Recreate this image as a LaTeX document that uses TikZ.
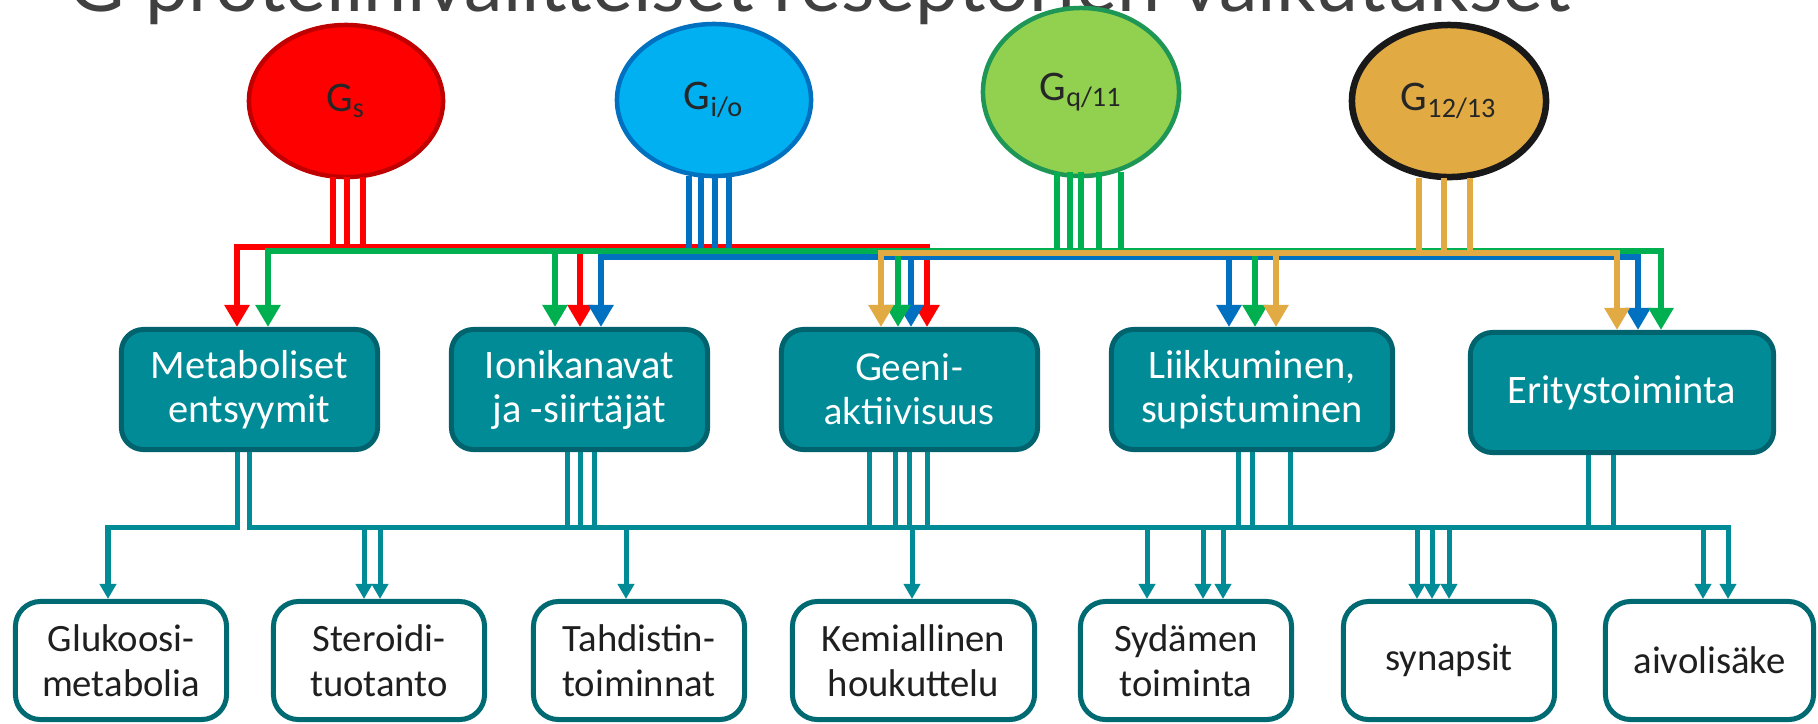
\documentclass[tikz,border=0pt]{standalone}
\usepackage{fontspec}
\setmainfont{Carlito}
\newfontfamily\latofont{Lato}
\usetikzlibrary{shapes.geometric,arrows.meta,calc}

\definecolor{gsfill}{RGB}{255,0,0}
\definecolor{gsedge}{RGB}{192,0,0}
\definecolor{giofill}{RGB}{0,176,240}
\definecolor{gioedge}{RGB}{0,112,192}
\definecolor{gqfill}{RGB}{146,208,80}
\definecolor{gqedge}{RGB}{30,150,85}
\definecolor{gfill}{RGB}{225,170,66}
\definecolor{linered}{RGB}{255,0,0}
\definecolor{lineblue}{RGB}{0,112,192}
\definecolor{linegreen}{RGB}{0,176,80}
\definecolor{lineyellow}{RGB}{225,170,66}
\definecolor{tealfill}{RGB}{0,139,150}
\definecolor{tealedge}{RGB}{0,99,110}
\definecolor{tealbox}{RGB}{0,106,114}
\definecolor{labeltext}{RGB}{38,38,38}
\definecolor{titlegray}{RGB}{64,64,64}

\begin{document}
\begin{tikzpicture}[x=0.01cm,y=-0.01cm,
		gprot/.style={ellipse, line width=0.045cm, minimum width=1.94cm, minimum height=1.52cm,
			inner sep=0pt, text=labeltext, font=\fontsize{12}{14}\selectfont},
		effbox/.style={rectangle, rounded corners=0.22cm, draw=tealedge, fill=tealfill, line width=0.05cm,
			minimum height=1.2cm, inner sep=0pt, align=center, text=white, font=\fontsize{11.5}{12.5}\selectfont},
		target/.style={rectangle, rounded corners=0.25cm, draw=tealbox, fill=white, line width=0.05cm,
			minimum width=2.11cm, minimum height=1.18cm, inner sep=0pt, align=center, text=black!88,
			font=\fontsize{11}{12.8}\selectfont},
		cline/.style={line width=0.065cm},
		tline/.style={line width=0.05cm, draw=tealfill},
		uptip/.style={-{Triangle[width=0.24cm,length=0.22cm]}},
		downtip/.style={-{Triangle[width=0.16cm,length=0.15cm]}}]
		\useasboundingbox (0,0) rectangle (1818,723);

		% Otsikko
		\node[anchor=base west, inner sep=0pt, text=titlegray, font=\latofont\fontsize{22}{26}\selectfont]
			(title) at (68,11) {G proteiinivälitteiset reseptorien vaikutukset};

		% G-proteiinit
		\node[gprot, fill=gsfill, draw=gsedge] (gs) at (346,101) {G\textsubscript{s}};
		\node[gprot, fill=giofill, draw=gioedge] (gio) at (714,100) {G\textsubscript{i/o}};
		\node[gprot, fill=gqfill, draw=gqedge, minimum width=1.96cm, minimum height=1.68cm] (gq) at (1081,92) {G\textsubscript{q/11}};
		\node[gprot, fill=gfill, draw=black!90, line width=0.065cm] (g12) at (1449,101) {G\textsubscript{12/13}};

		% Vaikutuskohteet
		\node[effbox, minimum width=2.56cm] (met) at (249.5,389.5) {Metaboliset\\entsyymit};
		\node[effbox, minimum width=2.56cm] (ion) at (579.5,389.5) {Ionikanavat\\ja -siirtäjät};
		\node[effbox, minimum width=2.56cm, font=\latofont\fontsize{10.5}{12.5}\selectfont] (gen) at (909.5,389.5) {Geeni-\\aktiivisuus};
		\node[effbox, minimum width=2.81cm] (lii) at (1252,389.5) {Liikkuminen,\\supistuminen};
		\node[effbox, minimum width=3.03cm] (eri) at (1622,392.5) {Eritystoiminta};

		% Toiminnot
		\node[target] (glu) at (121,660.5) {Glukoosi-\\metabolia};
		\node[target] (ste) at (379,660.5) {Steroidi-\\tuotanto};
		\node[target] (tah) at (639,660.5) {Tahdistin-\\toiminnat};
		\node[target, minimum width=2.42cm] (kem) at (913.5,660.5) {Kemiallinen\\houkuttelu};
		\node[target] (syd) at (1186,660.5) {Sydämen\\toiminta};
		\node[target] (syn) at (1449,660.5) {synapsit};
		\node[target, minimum width=2.08cm] (aiv) at (1709.5,660.5) {aivolisäke};

		% Kiskot
		\coordinate (rbus) at (346,247);
		\coordinate (bbus) at (714,257);
		\coordinate (gbus) at (1081,251);
		\coordinate (ybus) at (1449,253);
		\coordinate (tbus) at (1000,527);

		% Gs
		\foreach \dx in {-13,1,17}
			\draw[cline, draw=linered] ($(gs.south)+(\dx,-2)$) |- (rbus);
		\draw[cline, draw=linered, uptip] (rbus) -| ($(met.north)+(-12.5,0)$);
		\draw[cline, draw=linered, uptip] (rbus) -| ($(ion.north)+(0.5,0)$);
		\draw[cline, draw=linered, uptip] (rbus) -| ($(gen.north)+(17.5,0)$);

		% Gi/o
		\foreach \dx in {-25,-13,1,15}
			\draw[cline, draw=lineblue] ($(gio.south)+(\dx,-2)$) |- (bbus);
		\draw[cline, draw=lineblue, uptip] (bbus) -| ($(ion.north)+(21.5,0)$);
		\draw[cline, draw=lineblue, uptip] (bbus) -| ($(gen.north)+(1.5,0)$);
		\draw[cline, draw=lineblue, uptip] (bbus) -| ($(lii.north)+(-23,0)$);
		\draw[cline, draw=lineblue, uptip] (bbus) -| ($(eri.north)+(16,0)$);

		% Gq/11
		\foreach \dx in {-24,-11,0,18,40}
			\draw[cline, draw=linegreen] ($(gq.south)+(\dx,-6)$) |- (gbus);
		\draw[cline, draw=linegreen, uptip] (gbus) -| ($(met.north)+(18.5,0)$);
		\draw[cline, draw=linegreen, uptip] (gbus) -| ($(ion.north)+(-24.5,0)$);
		\draw[cline, draw=linegreen, uptip] (gbus) -| ($(gen.north)+(-11.5,0)$);
		\draw[cline, draw=linegreen, uptip] (gbus) -| ($(lii.north)+(3,0)$);
		\draw[cline, draw=linegreen, uptip] (gbus) -| ($(eri.north)+(39,0)$);

		% G12/13
		\foreach \dx in {-30,-5,21}
			\draw[cline, draw=lineyellow] ($(g12.south)+(\dx,-2)$) |- (ybus);
		\draw[cline, draw=lineyellow, uptip] (ybus) -| ($(gen.north)+(-28.5,0)$);
		\draw[cline, draw=lineyellow, uptip] (ybus) -| ($(lii.north)+(24,0)$);
		\draw[cline, draw=lineyellow, uptip] (ybus) -| ($(eri.north)+(-5,0)$);

		% Alempi kisko
		\draw[tline, downtip] ($(met.south)+(-12.5,0)$) -- ++(0,75) -| ($(glu.north)+(-13,0)$);
		\draw[tline] ($(met.south)+(-0.5,0)$) |- (tbus);
		\foreach \dx in {-12.5,0.5,14.5}
			\draw[tline] ($(ion.south)+(\dx,0)$) |- (tbus);
		\foreach \dx in {-40.5,-14.5,-0.5,17.5}
			\draw[tline] ($(gen.south)+(\dx,0)$) |- (tbus);
		\foreach \dx in {-14,0,38}
			\draw[tline] ($(lii.south)+(\dx,0)$) |- (tbus);
		\foreach \dx in {-34,-9}
			\draw[tline] ($(eri.south)+(\dx,0)$) |- (tbus);

		\foreach \dx in {-15,1}
			\draw[tline, downtip] (tbus) -| ($(ste.north)+(\dx,0)$);
		\draw[tline, downtip] (tbus) -| ($(tah.north)+(-13,0)$);
		\draw[tline, downtip] (tbus) -| ($(kem.north)+(-1.5,0)$);
		\foreach \dx in {-39,17,37}
			\draw[tline, downtip] (tbus) -| ($(syd.north)+(\dx,0)$);
		\foreach \dx in {-32,-17,0}
			\draw[tline, downtip] (tbus) -| ($(syn.north)+(\dx,0)$);
		\foreach \dx in {-6.5,18.5}
			\draw[tline, downtip] (tbus) -| ($(aiv.north)+(\dx,0)$);
	\end{tikzpicture}
\end{document}
